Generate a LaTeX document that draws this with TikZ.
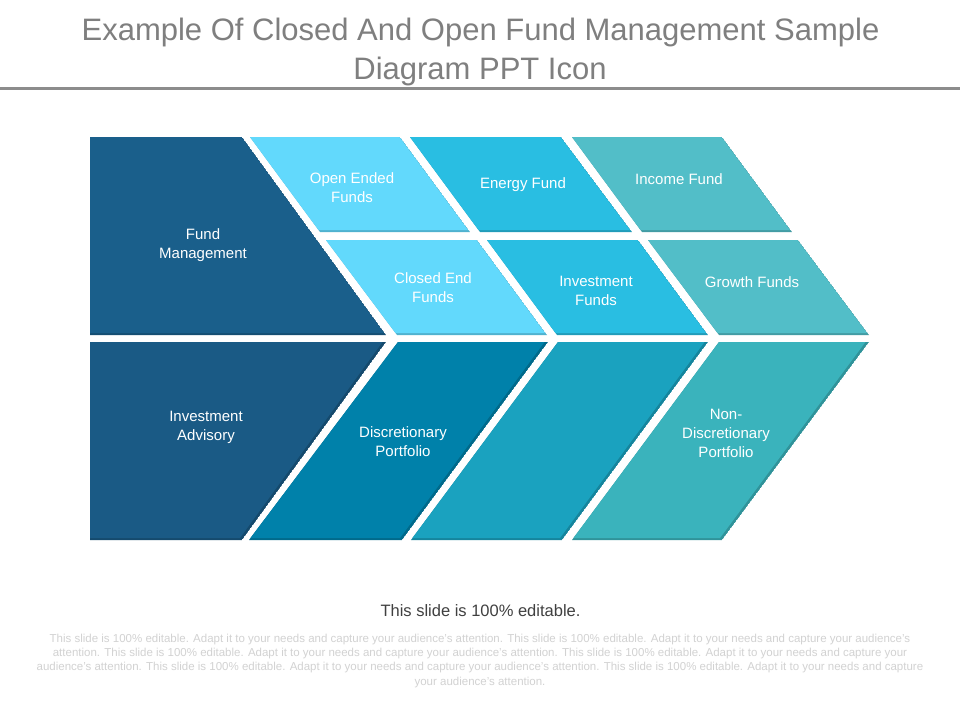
\documentclass[tikz,border=0pt]{standalone}
\usepackage{fontspec}
\setmainfont{Liberation Sans}
\definecolor{navy}{HTML}{1A5F8B}
\definecolor{navyB}{HTML}{1A5A85}
\definecolor{sky}{HTML}{62D9FC}
\definecolor{cyanm}{HTML}{29BEE2}
\definecolor{tealm}{HTML}{52BEC8}
\definecolor{lowA}{HTML}{0081AA}
\definecolor{lowB}{HTML}{1AA2BF}
\definecolor{lowC}{HTML}{3AB3BC}
\definecolor{titlegray}{HTML}{7F7F7F}
\definecolor{rulegray}{HTML}{8C8C8C}
\definecolor{footdark}{HTML}{404040}
\definecolor{footlight}{HTML}{D2D2D2}
\tikzset{
  paneltext/.style={text=white,align=center,font=\fontsize{15}{19}\selectfont,inner sep=0pt},
  titletext/.style={text=titlegray,font=\fontsize{31}{39}\selectfont,inner sep=0pt,anchor=center},
  smalltext/.style={text=footlight,font=\fontsize{11.5}{15}\selectfont,inner sep=0pt,anchor=center}
}
\newcommand{\panel}[2]{%
  \begin{scope}
    \clip #2 -- cycle;
    \fill[#1!82!black] #2 -- cycle;
    \fill[#1,shift={(-2,-2)}] #2 -- cycle;
  \end{scope}}
\begin{document}
\begin{tikzpicture}[x=1pt,y=-1pt]
\useasboundingbox (0,0) rectangle (960,720);
\fill[white] (0,0) rectangle (960,720);

\panel{navy}{(90,137) -- (242,137) -- (386,335) -- (90,335)}
\panel{navyB}{(90,342) -- (386,342) -- (242,540) -- (90,540)}

\panel{sky}{(250,137) -- (400,137) -- (470,232) -- (320,232)}
\panel{cyanm}{(410,137) -- (561,137) -- (632,232) -- (480,232)}
\panel{tealm}{(572,137) -- (722,137) -- (792,232) -- (642,232)}

\panel{sky}{(326,240) -- (477,240) -- (547,335) -- (397,335)}
\panel{cyanm}{(487,240) -- (638,240) -- (708,335) -- (557,335)}
\panel{tealm}{(648,240) -- (798,240) -- (869,335) -- (719,335)}

\panel{lowA}{(398,342) -- (548,342) -- (402,540) -- (249,540)}
\panel{lowB}{(558,342) -- (708,342) -- (562,540) -- (411,540)}
\panel{lowC}{(719,342) -- (869,342) -- (722,540) -- (572,540)}

\node[paneltext] (fm) at (203,245.5) {Fund\\Management};
\node[paneltext] (ia) at (206,427) {Investment\\Advisory};
\node[paneltext] (oe) at (352,187.5) {Open Ended\\Funds};
\node[paneltext] (ef) at (523,185) {Energy Fund};
\node[paneltext] (if) at (679,179) {Income Fund};
\node[paneltext] (ce) at (433,287.5) {Closed End\\Funds};
\node[paneltext] (inv) at (596,290.5) {Investment\\Funds};
\node[paneltext] (gf) at (752,282) {Growth Funds};
\node[paneltext] (dp) at (403,441.5) {Discretionary\\Portfolio};
\node[paneltext] (nd) at (726,433) {Non-\\Discretionary\\Portfolio};

\node[titletext] (t1) at (480.5,32) {Example Of Closed And Open Fund Management Sample};
\node[titletext] (t2) at (480,71) {Diagram PPT Icon};
\coordinate (rl) at (0,88.5);
\coordinate (rr) at (960,88.5);
\draw[rulegray,line width=3pt] (rl) -- (rr);

\node[text=footdark,font=\fontsize{16.5}{20}\selectfont,inner sep=0pt] (f0) at (480.5,611) {This slide is 100\% editable.};
\node[smalltext] (f1) at (480,639.5) {This slide is 100\% editable. Adapt it to your needs and capture your audience's attention. This slide is 100\% editable. Adapt it to your needs and capture your audience's};
\node[smalltext] (f2) at (480,654) {attention. This slide is 100\% editable. Adapt it to your needs and capture your audience's attention. This slide is 100\% editable. Adapt it to your needs and capture your};
\node[smalltext] (f3) at (480,668) {audience's attention. This slide is 100\% editable. Adapt it to your needs and capture your audience's attention. This slide is 100\% editable. Adapt it to your needs and capture};
\node[smalltext] (f4) at (480,683) {your audience's attention.};
\end{tikzpicture}
\end{document}
